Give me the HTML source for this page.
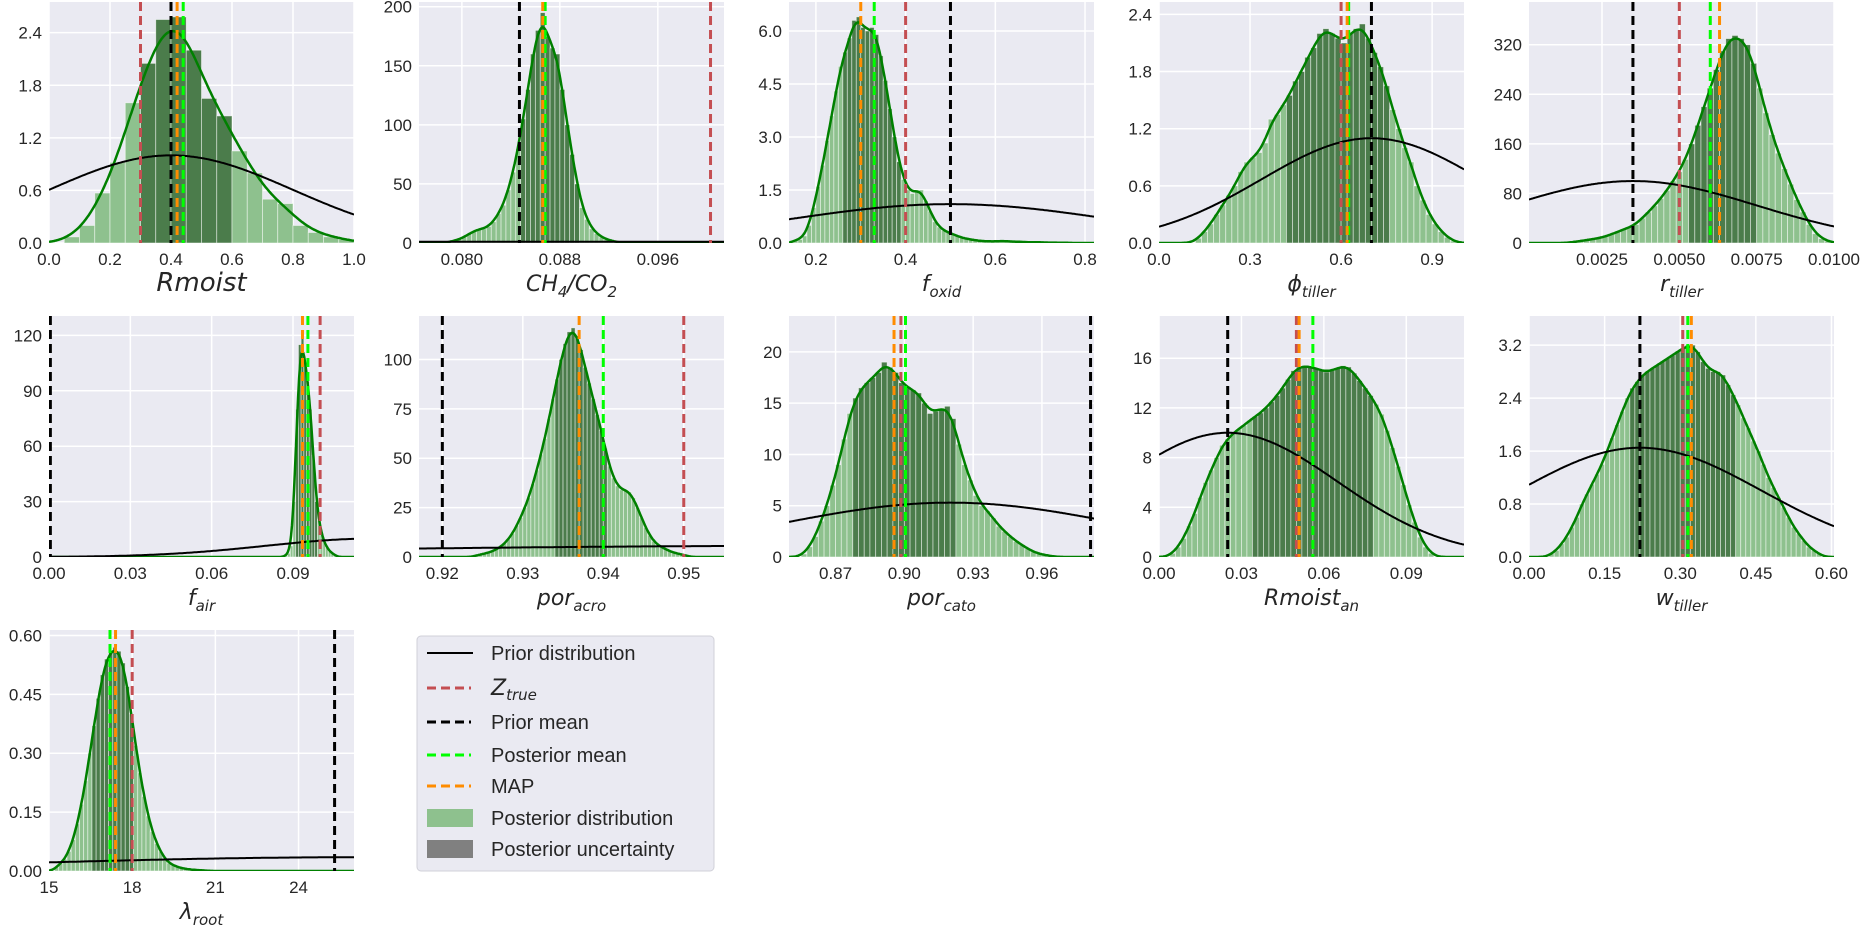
<!DOCTYPE html>
<html><head><meta charset="utf-8"><style>
body{margin:0;background:#fff;}
svg{display:block;font-family:"Liberation Sans","DejaVu Sans",sans-serif;}
</style></head><body>
<svg id="fig" width="1864" height="928" viewBox="0 0 1864 928"></svg>
<script>
// ---------- data ----------
const rmoistCounts=[0.07,0.2,0.57,0.92,1.6,2.05,2.55,2.58,2.2,1.65,1.45,1.05,0.8,0.5,0.45,0.2,0.12,0.07,0.04];
const ch4Counts=[1,2,3,5,8,10,12,12,14,18,25,32,45,60,80,105,130,160,180,195,175,165,160,130,100,75,50,30,20,12,8,5,3,2,1];
const foxidCounts=[0.1,0.1,0.2,0.5,1.0,1.6,2.2,2.9,3.6,4.3,5.0,5.4,5.8,6.3,6.4,6.1,6.0,6.1,5.9,5.3,4.6,3.8,3.0,2.3,1.8,1.5,1.4,1.5,1.5,1.2,0.9,0.6,0.45,0.35,0.3,0.25,0.2,0.15,0.12,0.1,0.08,0.06,0.05,0.05,0.04,0.05,0.06,0.05,0.04,0.04,0.03,0.03,0.02,0.02,0.02,0.02,0.01,0.01,0.01,0.01,0.01];
const phiCounts=[0.05,0.12,0.2,0.3,0.4,0.5,0.6,0.75,0.85,0.9,0.95,1.05,1.3,1.35,1.45,1.55,1.7,1.8,1.95,2.05,2.2,2.25,2.2,2.15,2.1,2.2,2.25,2.3,2.15,2.0,1.85,1.65,1.4,1.2,1.0,0.85,0.6,0.45,0.3,0.2,0.12,0.06,0.02];
const rtillerCounts=[2,3,5,6,8,10,14,18,22,25,30,40,50,60,72,85,100,115,135,160,190,220,250,280,310,330,335,330,320,290,250,210,175,145,120,95,70,50,30,15,7,3];
const fairCounts=[1,2,6,30,80,115,120,105,95,80,55,30,20,12,8,5,3,2,1];
const poracroCounts=[1,1,2,2,3,4,5,7,9,12,16,20,25,30,37,44,52,60,70,80,90,100,108,114,116,112,105,96,88,80,72,64,55,46,40,36,34,34,33,30,25,20,15,11,8,6,5,4,3,2,2,1,1];
const porcatoCounts=[0.3,1,2,3.5,5,7,9,11.5,14,15.5,16.5,17,17.5,18,19,18.5,18,17,16.5,16.3,16,15,14,14.2,14.5,14.7,13.5,11,9,7.5,6,5,4.5,3.8,3,2.5,2,1.5,1.2,0.8,0.5,0.3,0.2,0.1];
const rmoistanCounts=[0.3,0.8,1.5,2.5,3.5,4.8,6,7,8,9,9.5,10,10.3,10.6,11,11.3,11.6,12,12.5,13,13.6,14.3,15,15.3,15.4,15.3,15.2,15,14.9,15,15.2,15.4,15.3,14.8,14.2,13.6,13,12.3,11.5,10.2,8.8,7.3,5.8,4.2,2.8,1.6,0.8,0.3];
const wtillerCounts=[0.05,0.1,0.2,0.3,0.45,0.6,0.8,0.95,1.1,1.25,1.4,1.6,1.8,2.0,2.2,2.4,2.55,2.65,2.75,2.8,2.85,2.9,2.95,3.0,3.05,3.1,3.15,3.2,3.2,3.1,2.95,2.85,2.8,2.8,2.75,2.6,2.45,2.3,2.1,1.95,1.75,1.6,1.4,1.2,1.05,0.9,0.75,0.6,0.45,0.35,0.25,0.15,0.1,0.05];
const lambdaCounts=[0.01,0.02,0.03,0.05,0.08,0.12,0.17,0.23,0.3,0.37,0.44,0.5,0.54,0.56,0.57,0.56,0.53,0.47,0.4,0.32,0.25,0.19,0.14,0.1,0.07,0.05,0.03,0.02,0.015,0.01,0.008,0.005,0.004,0.003,0.002,0.002,0.001];

const binStarts=[0.05,0.0788,0.15,0.12,0.0015,0.087,0.924,0.855,0.004,0.04,15.2];
const binWidths=[0.05,0.0004,0.01,0.02,0.0002,0.001,0.0005,0.0025,0.002,0.01,0.15];
const darkLo=[0.29,0.0847,0.26,0.43,0.0054,0.0915,0.934,0.878,0.034,0.2,16.5];
const darkHi=[0.6,0.0895,0.39,0.76,0.0075,0.099,0.9405,0.922,0.0775,0.41,18.0];
const priorMeans=[0.4,0.0847,0.5,0.7,0.0035,0.12,0.97,0.92,0.025,0.22,26];
const priorSds=[0.4,1,0.363,0.363,0.004,0.04,0.07,0.0753,0.04,0.2418,11.4];
const priorPeaks=[1.0,1,1.1,1.1,100,10,5.7,5.3,10,1.65,0.035];
const zTrue=[0.3,0.1003,0.40,0.6,0.005,0.1,0.95,0.8985,0.050,0.305,18.0];
const priorMeanLine=[0.4,0.0847,0.5,0.7,0.0035,0.0005,0.92,0.9812,0.025,0.22,25.3];
const postMean=[0.44,0.0868,0.33,0.625,0.006,0.0955,0.94,0.9005,0.056,0.315,17.2];
const mapVals=[0.42,0.0866,0.30,0.62,0.0063,0.0935,0.937,0.8955,0.051,0.322,17.4];
const xMins=[0,0.0765,0.14,0,0.00014,0,0.9171,0.8497,0,0,15];
const xMaxs=[1,0.1014,0.82,1.005,0.01,0.1125,0.955,0.9827,0.111,0.605,26.0];
const yMaxs=[2.75,204,6.82,2.53,389,130.5,122,23.5,19.4,3.64,0.614];
const xTicks=[[0,0.2,0.4,0.6,0.8,1.0],[0.080,0.088,0.096],[0.2,0.4,0.6,0.8],[0,0.3,0.6,0.9],[0.0025,0.005,0.0075,0.01],[0,0.03,0.06,0.09],[0.92,0.93,0.94,0.95],[0.87,0.90,0.93,0.96],[0,0.03,0.06,0.09],[0,0.15,0.3,0.45,0.6],[15,18,21,24]];
const xTickLabels=[["0.0","0.2","0.4","0.6","0.8","1.0"],["0.080","0.088","0.096"],["0.2","0.4","0.6","0.8"],["0.0","0.3","0.6","0.9"],["0.0025","0.0050","0.0075","0.0100"],["0.00","0.03","0.06","0.09"],["0.92","0.93","0.94","0.95"],["0.87","0.90","0.93","0.96"],["0.00","0.03","0.06","0.09"],["0.00","0.15","0.30","0.45","0.60"],["15","18","21","24"]];
const yTicks=[[0,0.6,1.2,1.8,2.4],[0,50,100,150,200],[0,1.5,3,4.5,6],[0,0.6,1.2,1.8,2.4],[0,80,160,240,320],[0,30,60,90,120],[0,25,50,75,100],[0,5,10,15,20],[0,4,8,12,16],[0,0.8,1.6,2.4,3.2],[0,0.15,0.3,0.45,0.6]];
const yTickLabels=[["0.0","0.6","1.2","1.8","2.4"],["0","50","100","150","200"],["0.0","1.5","3.0","4.5","6.0"],["0.0","0.6","1.2","1.8","2.4"],["0","80","160","240","320"],["0","30","60","90","120"],["0","25","50","75","100"],["0","5","10","15","20"],["0","4","8","12","16"],["0.0","0.8","1.6","2.4","3.2"],["0.00","0.15","0.30","0.45","0.60"]];
const xLabelParts=[[["Rmoist",""]],[["CH","4"],["/CO","2"]],[["f","oxid"]],[["ϕ","tiller"]],[["r","tiller"]],[["f","air"]],[["por","acro"]],[["por","cato"]],[["Rmoist","an"]],[["w","tiller"]],[["λ","root"]]];
const countsList=[rmoistCounts,ch4Counts,foxidCounts,phiCounts,rtillerCounts,fairCounts,poracroCounts,porcatoCounts,rmoistanCounts,wtillerCounts,lambdaCounts];
const panelNames=["rmoist","ch4-co2","f-oxid","phi-tiller","r-tiller","f-air","por-acro","por-cato","rmoist-an","w-tiller","lambda-root"];

const NS="http://www.w3.org/2000/svg";
const svg=document.getElementById('fig');
const rowTops=[2,316,630], colLefts=[49,419,789,1159,1529], PW=305, PH=241;
function mk(tag,attrs,parent){const e=document.createElementNS(NS,tag);for(const k in attrs)e.setAttribute(k,attrs[k]);(parent||svg).appendChild(e);return e;}

for(let p=0;p<11;p++){
  const L=colLefts[p%5], T=rowTops[Math.floor(p/5)], B=T+PH, R=L+PW;
  const sx=v=>L+(v-xMins[p])/(xMaxs[p]-xMins[p])*PW;
  const sy=v=>B-v/yMaxs[p]*PH;
  const g=mk('g',{});
  
  
  const clipId='clip'+p;
  const cp=mk('clipPath',{id:clipId},g); mk('rect',{x:L,y:T,width:PW,height:PH},cp);
  const bg=mk('rect',{x:L,y:T,width:PW,height:PH,fill:'#eaeaf2'},g);
  
  
  xTicks[p].forEach(t=>{const l=mk('line',{x1:sx(t),x2:sx(t),y1:T,y2:B,stroke:'#fff','stroke-width':1.5},g);
    
    });
  yTicks[p].forEach(t=>{const l=mk('line',{x1:L,x2:R,y1:sy(t),y2:sy(t),stroke:'#fff','stroke-width':1.5},g);
    
    });
  const cg=mk('g',{'clip-path':'url(#'+clipId+')'},g);
  const c=countsList[p], s0=binStarts[p], w=binWidths[p];
  c.forEach((v,i)=>{
    const x0=s0+i*w, x1=x0+w, mid=(x0+x1)/2;
    const dark=mid>=darkLo[p]&&mid<=darkHi[p];
    const r=mk('rect',{x:sx(x0),y:sy(v),width:Math.max(0.5,sx(x1)-sx(x0)),height:B-sy(v),fill:dark?'#4b7c4b':'#8ec18e',stroke:'#fff','stroke-opacity':0.6,'stroke-width':0.8},cg);
    
    
  });
  let d='';
  const h=w*1.0, N=300;
  for(let k=0;k<=N;k++){
    const x=xMins[p]+(xMaxs[p]-xMins[p])*k/N;
    let y=0;
    c.forEach((v,i)=>{const m=s0+(i+0.5)*w;const z=(x-m)/h;y+=v*w*Math.exp(-0.5*z*z)/(h*2.5066);});
    d+=(k?'L':'M')+sx(x).toFixed(1)+','+sy(y).toFixed(1);
  }
  const kde=mk('path',{d:d,fill:'none',stroke:'#008000','stroke-width':2.5},cg);
  
  
  let pd='';
  for(let k=0;k<=N;k++){
    const x=xMins[p]+(xMaxs[p]-xMins[p])*k/N;
    const z=(x-priorMeans[p])/priorSds[p];
    const y=priorPeaks[p]*Math.exp(-0.5*z*z);
    pd+=(k?'L':'M')+sx(x).toFixed(1)+','+sy(y).toFixed(1);
  }
  const pr=mk('path',{d:pd,fill:'none',stroke:'#000','stroke-width':2},cg);
  
  
  [[zTrue[p],'#c44e52','z-true-line'],[priorMeanLine[p],'#000','prior-mean-line'],[postMean[p],'#00ff00','posterior-mean-line'],[mapVals[p],'#ff8c00','map-line']].forEach(a=>{
    const l=mk('line',{x1:sx(a[0]),x2:sx(a[0]),y1:T,y2:B,stroke:a[1],'stroke-width':3,'stroke-dasharray':'9,5'},cg);
    
    
  });
  xTicks[p].forEach((t,i)=>{const tx=mk('text',{x:sx(t),y:B+22,'text-anchor':'middle','font-size':17,fill:'#262626'},g);tx.textContent=xTickLabels[p][i];
    
    });
  yTicks[p].forEach((t,i)=>{const tx=mk('text',{x:L-7,y:sy(t)+6,'text-anchor':'end','font-size':17,fill:'#262626'},g);tx.textContent=yTickLabels[p][i];
    
    });
  const xl=mk('text',{x:L+PW/2,y:B+48,'text-anchor':'middle','font-size':p==0?26:22,'font-style':'italic',fill:'#262626','font-family':'"DejaVu Sans",sans-serif'},g);
  
  
  xLabelParts[p].forEach(pt=>{
    const a=mk('tspan',{},xl); a.textContent=pt[0];
    if(pt[1]){const b=mk('tspan',{'font-size':p==0?18:15,dy:6},xl);b.textContent=pt[1];const r=mk('tspan',{dy:-6},xl);r.textContent='\u200b';}
  });
}

const lg=mk('g',{});


mk('rect',{x:417,y:636,width:297,height:235,rx:4,fill:'#eaeaf2',stroke:'#d0d0d8'},lg);
const legendLabels=["Prior distribution","Z","Prior mean","Posterior mean","MAP","Posterior distribution","Posterior uncertainty"];
const legendYs=[653,688,722,755,786,818,849];
legendLabels.forEach((lab,i)=>{
  const y=legendYs[i];
  let m;
  if(i==0){m=mk('line',{x1:427,x2:473,y1:y,y2:y,stroke:'#000','stroke-width':2},lg);}
  else if(i<5){const col=['','#c44e52','#000','#00ff00','#ff8c00'][i];m=mk('line',{x1:427,x2:471,y1:y,y2:y,stroke:col,'stroke-width':3,'stroke-dasharray':'9,5'},lg);}
  else {m=mk('rect',{x:427,y:y-9,width:46,height:18,fill:i==5?'#8ec18e':'#808080'},lg);}
  
  
  const t=mk('text',{x:491,y:y+7,'font-size':20,fill:'#262626'},lg);
  
  
  if(i==1){t.setAttribute('font-style','italic');t.setAttribute('font-family','"DejaVu Sans",sans-serif');
    const a=mk('tspan',{'font-size':22},t);a.textContent='Z';const b=mk('tspan',{'font-size':15,dy:5},t);b.textContent='true';}
  else t.textContent=lab;
});
</script>
</body></html>
